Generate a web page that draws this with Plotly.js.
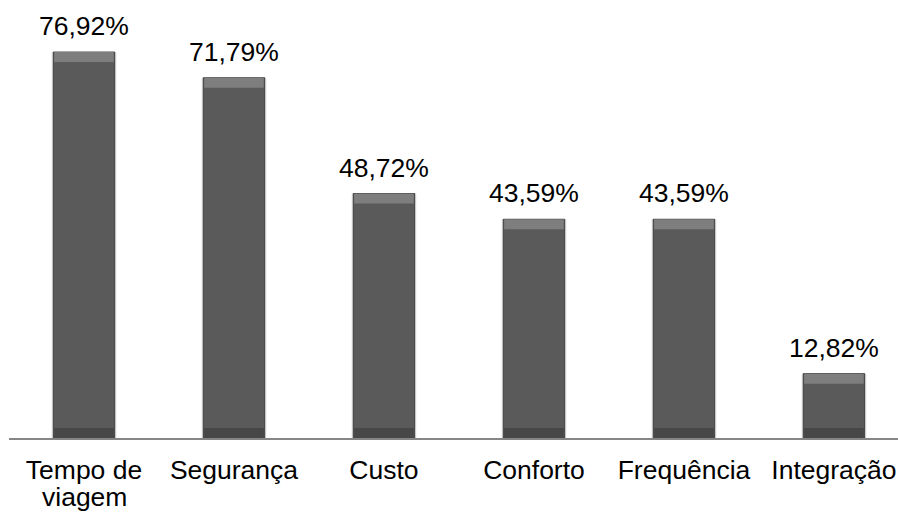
<!DOCTYPE html>
<html><head><meta charset="utf-8">
<script src="https://cdn.plot.ly/plotly-3.0.1.min.js"></script>
<style>html,body{margin:0;padding:0;background:#fff;overflow:hidden}#c{width:898px;height:513px}</style>
</head><body><div id="c"></div>
<script>
const categories = ["Tempo de viagem", "Segurança", "Custo", "Conforto", "Frequência", "Integração"];
const tickLine1 = ["Tempo de", "Segurança", "Custo", "Conforto", "Frequência", "Integração"];
const tickLine2 = ["viagem", "", "", "", "", ""];
const values = [76.92, 71.79, 48.72, 43.59, 43.59, 12.82];
const labels = ["76,92%", "71,79%", "48,72%", "43,59%", "43,59%", "12,82%"];

const FONT = "Liberation Sans, Arial, sans-serif";
const FS = 26.5;
const BW = 0.41;
const bevel = 2.0;

const traces = [
  { type: "bar", x: categories, y: values, width: BW + 0.025,
    marker: { color: "rgba(0,0,0,0.07)", line: { width: 0 } }, hoverinfo: "skip" },
  { type: "bar", x: categories, y: values, width: BW,
    marker: { color: "#5a5a5a", line: { color: "#3e3e3e", width: 1 } },
    hoverinfo: "skip" },
  { type: "bar", x: categories, y: values.map(() => bevel), base: values.map(v => v - bevel), width: BW * 0.97,
    marker: { color: "#7e7e7e", line: { width: 0 } }, hoverinfo: "skip" },
  { type: "bar", x: categories, y: values.map(() => bevel), base: values.map(() => 0), width: BW * 0.97,
    marker: { color: "#474747", line: { width: 0 } }, hoverinfo: "skip" }
];

const annotations = categories.map((c, i) => ({
  x: c, y: values[i], xref: "x", yref: "y", text: labels[i], showarrow: false,
  yanchor: "bottom", yshift: 9, font: { family: FONT, size: FS, color: "#000" }
}));
categories.forEach((c, i) => {
  if (tickLine2[i]) annotations.push({
    x: c, y: 0, xref: "x", yref: "paper", text: tickLine2[i], showarrow: false,
    yanchor: "middle", yshift: -59, borderpad: 0, font: { family: FONT, size: FS, color: "#000" }
  });
});

const layout = {
  width: 898, height: 513,
  margin: { l: 9, r: 0, t: 10, b: 75 },
  paper_bgcolor: "#fff", plot_bgcolor: "#fff",
  barmode: "overlay", showlegend: false,
  font: { family: FONT, size: FS, color: "#000" },
  xaxis: { type: "category", range: [-0.5, 5.427], showgrid: false, zeroline: false,
    showline: true, linecolor: "#868686", linewidth: 2, ticks: "",
    tickmode: "array", tickvals: categories, ticktext: tickLine1,
    tickfont: { family: FONT, size: FS, color: "#000" }, ticklabelstandoff: 7 },
  yaxis: { range: [0, 85.3], visible: false, showgrid: false, zeroline: false },
  annotations: annotations
};
Plotly.newPlot("c", traces, layout, { displayModeBar: false, staticPlot: true });
</script></body></html>
